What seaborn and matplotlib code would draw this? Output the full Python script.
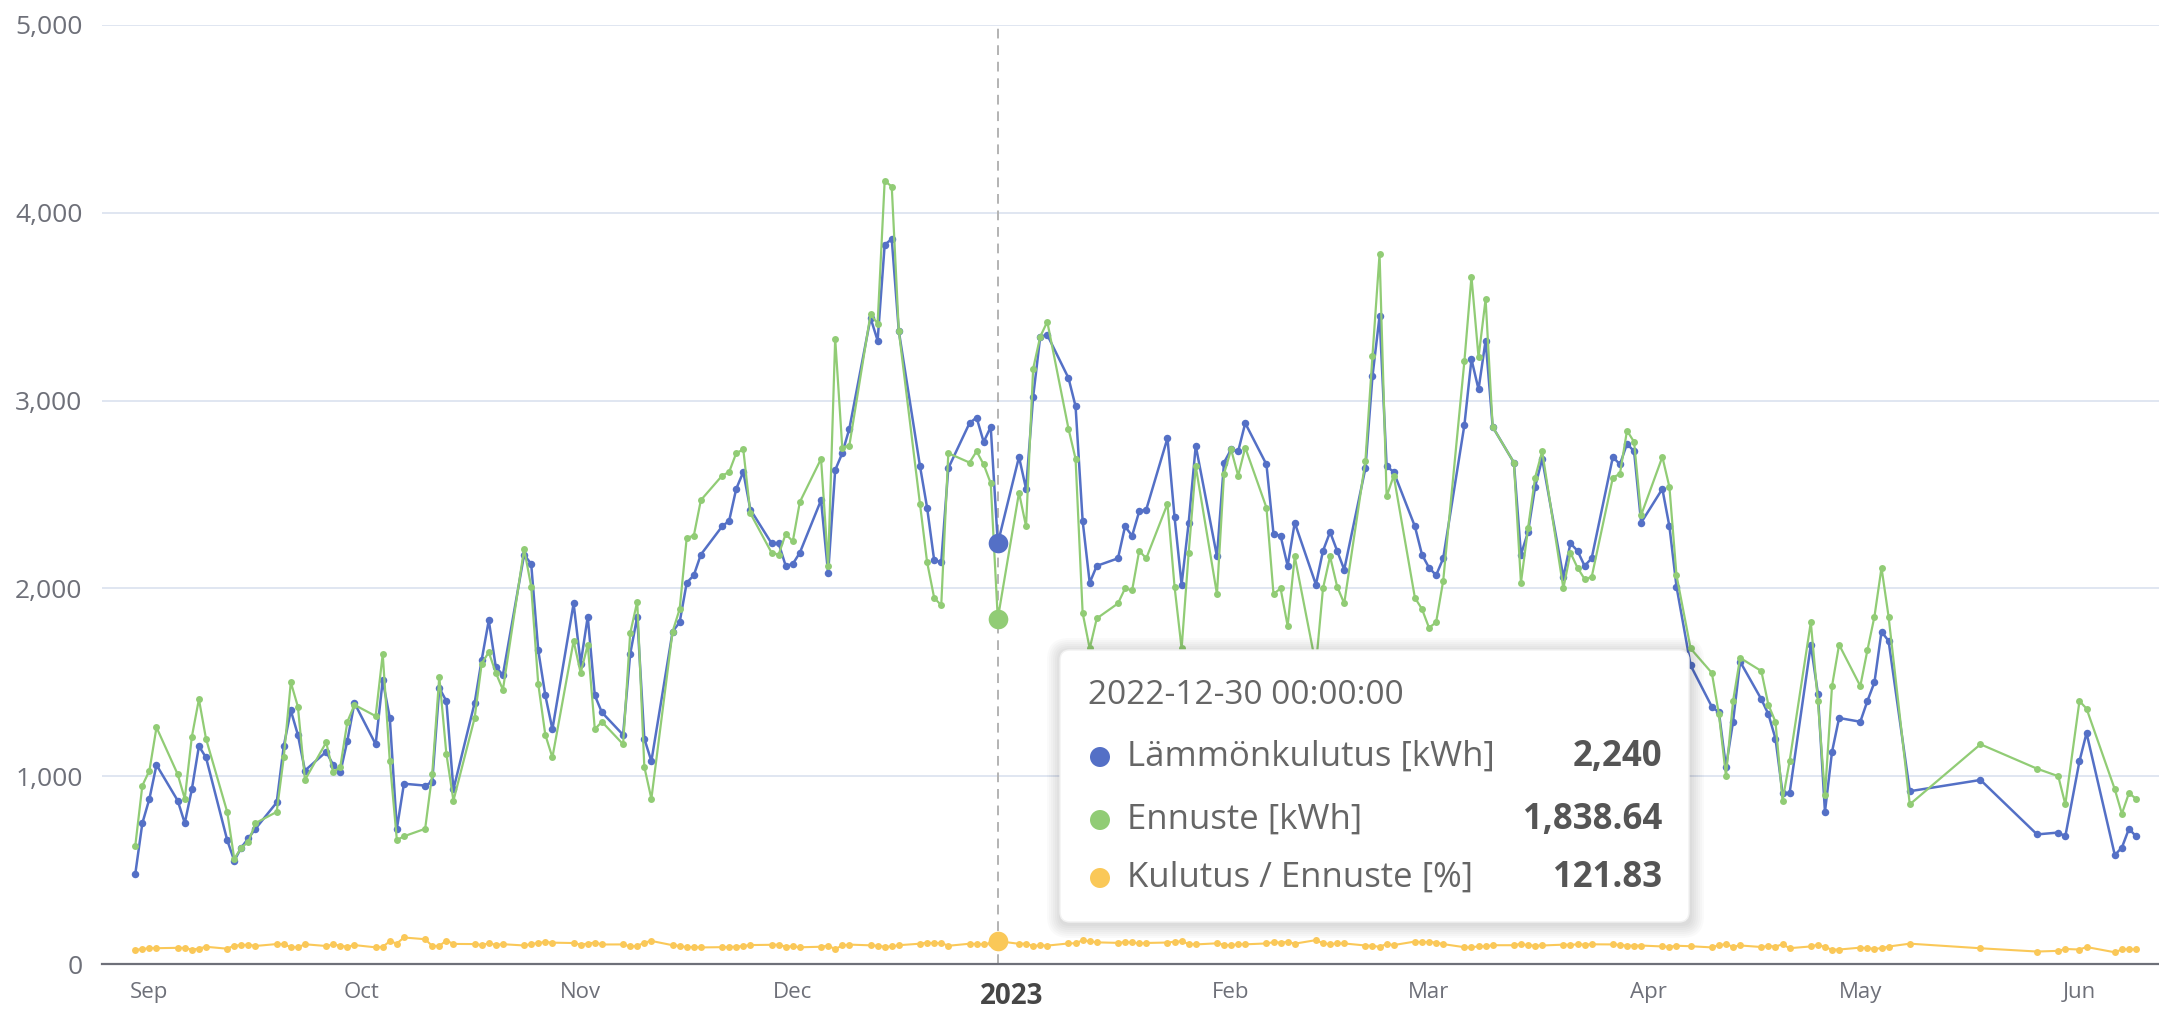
import pandas as pd
import numpy as np
import seaborn as sns
import matplotlib.pyplot as plt
from matplotlib.patches import FancyBboxPatch, Circle
from matplotlib.transforms import IdentityTransform

# weekdays with readings (2023-04-06 missing), then the sparse days from mid-May
main_days = pd.bdate_range('2022-08-30', '2023-05-08').drop(pd.Timestamp('2023-04-06'))
tail_days = pd.to_datetime(['2023-05-18', '2023-05-26', '2023-05-29', '2023-05-30', '2023-06-01',
                            '2023-06-02', '2023-06-06', '2023-06-07', '2023-06-08', '2023-06-09'])
dates = main_days.append(tail_days)

# Lämmönkulutus [kWh], one row per week
consumption = [
    480, 750, 880, 1060,
    870, 750, 930, 1160, 1100,
    660, 550, 620, 670, 720,
    860, 1160, 1350, 1220, 1030,
    1130, 1060, 1020, 1190, 1390,
    1170, 1510, 1310, 720, 960,
    950, 970, 1470, 1400, 930,
    1390, 1620, 1830, 1580, 1540,
    2180, 2130, 1670, 1430, 1250,
    1920, 1600, 1850, 1430, 1340,
    1220, 1650, 1850, 1200, 1080,
    1770, 1820, 2030, 2070, 2180,
    2330, 2360, 2530, 2620, 2420,
    2240, 2240, 2120, 2130, 2190,
    2470, 2080, 2630, 2720, 2850,
    3440, 3320, 3830, 3860, 3370,
    2650, 2430, 2150, 2140, 2640,
    2880, 2910, 2780, 2860, 2240,
    2700, 2530, 3020, 3340, 3350,
    3120, 2970, 2360, 2030, 2120,
    2160, 2330, 2280, 2410, 2420,
    2800, 2380, 2020, 2350, 2760,
    2170, 2670, 2740, 2730, 2880,
    2660, 2290, 2280, 2120, 2350,
    2020, 2200, 2300, 2200, 2100,
    2640, 3130, 3450, 2650, 2620,
    2330, 2180, 2110, 2070, 2160,
    2870, 3220, 3060, 3320, 2860,
    2670, 2180, 2300, 2540, 2690,
    2060, 2240, 2200, 2120, 2160,
    2700, 2660, 2770, 2730, 2350,
    2530, 2330, 2010, 1590,
    1370, 1340, 1050, 1290, 1610,
    1410, 1330, 1200, 910, 910,
    1700, 1440, 810, 1130, 1310,
    1290, 1400, 1500, 1770, 1720,
    920,
    980, 690, 700, 680, 1080, 1230, 580, 620, 720, 680,
]

# Ennuste [kWh]
forecast = [
    630, 950, 1030, 1260,
    1010, 880, 1210, 1410, 1200,
    810, 560, 620, 650, 750,
    810, 1100, 1500, 1370, 980,
    1180, 1020, 1050, 1290, 1380,
    1320, 1650, 1080, 660, 680,
    720, 1010, 1530, 1120, 870,
    1310, 1600, 1660, 1550, 1460,
    2210, 2010, 1490, 1220, 1100,
    1720, 1550, 1700, 1250, 1290,
    1170, 1760, 1930, 1050, 880,
    1770, 1890, 2270, 2280, 2470,
    2600, 2620, 2720, 2740, 2400,
    2190, 2180, 2290, 2250, 2460,
    2690, 2120, 3330, 2750, 2760,
    3460, 3410, 4170, 4140, 3370,
    2450, 2140, 1950, 1910, 2720,
    2670, 2730, 2660, 2560, 1838.64,
    2510, 2330, 3170, 3340, 3420,
    2850, 2690, 1870, 1680, 1840,
    1920, 2000, 1990, 2200, 2160,
    2450, 2010, 1680, 2190, 2650,
    1970, 2610, 2740, 2600, 2750,
    2430, 1970, 2000, 1800, 2170,
    1590, 2000, 2170, 2010, 1920,
    2680, 3240, 3780, 2490, 2600,
    1950, 1890, 1790, 1820, 2040,
    3210, 3660, 3230, 3540, 2860,
    2670, 2030, 2320, 2590, 2730,
    2000, 2190, 2110, 2050, 2060,
    2590, 2610, 2840, 2780, 2390,
    2700, 2540, 2070, 1680,
    1550, 1330, 1000, 1400, 1630,
    1560, 1380, 1290, 870, 1080,
    1820, 1400, 900, 1480, 1700,
    1480, 1670, 1850, 2110, 1850,
    850,
    1170, 1040, 1000, 850, 1400, 1360, 930, 800, 910, 880,
]

assert len(consumption) == len(forecast) == len(dates)

df = pd.DataFrame({'date': dates, 'kulutus': consumption, 'ennuste': forecast})
df['suhde'] = df['kulutus'] / df['ennuste'] * 100

focus_day = pd.Timestamp('2022-12-30')
month_ticks = pd.to_datetime(['2022-09-01', '2022-10-01', '2022-11-01', '2022-12-01', '2023-01-01',
                              '2023-02-01', '2023-03-01', '2023-04-01', '2023-05-01', '2023-06-01'])
month_labels = ['Sep', 'Oct', 'Nov', 'Dec', '2023', 'Feb', 'Mar', 'Apr', 'May', 'Jun']
y_ticks = [0, 1000, 2000, 3000, 4000, 5000]

series_names = ['Lämmönkulutus [kWh]', 'Ennuste [kWh]', 'Kulutus / Ennuste [%]']
blue, green, yellow = '#5470c6', '#91cc75', '#fac858'

sns.set_style('white')
plt.rcParams['font.family'] = ['Open Sans', 'DejaVu Sans']

fig = plt.figure(figsize=(21.59, 10.09), dpi=100)
ax = fig.add_axes([102 / 2159, 1 - 964 / 1009, 2057 / 2159, 939 / 1009])

ax.axvline(focus_day, color='#b3b3b3', lw=1.4, ls=(0, (5, 3.5)), zorder=1)

for col, color, lw, ms in [('kulutus', blue, 1.8, 5.4), ('ennuste', green, 1.6, 5.0), ('suhde', yellow, 1.5, 5.0)]:
    sns.lineplot(data=df, x='date', y=col, color=color, lw=lw, marker='o', markersize=ms,
                 markeredgewidth=0, ax=ax, zorder=3, clip_on=False)

focus = df[df['date'] == focus_day]
for col, color in [('kulutus', blue), ('ennuste', green), ('suhde', yellow)]:
    sns.scatterplot(data=focus, x='date', y=col, color=color, s=200, edgecolor=color,
                    linewidth=0, ax=ax, zorder=4, clip_on=False)

ax.set_xlim(pd.Timestamp('2022-08-25 07:00'), pd.Timestamp('2023-06-12 06:00'))
ax.set_ylim(0, 5000)
ax.set_xlabel('')
ax.set_ylabel('')

ax.set_yticks(y_ticks)
ax.set_yticklabels([f'{v:,}' for v in y_ticks], fontsize=19, color='#6e7079')
ax.tick_params(axis='y', length=0, pad=14)
ax.grid(axis='y', color='#e0e6f1', lw=1.4)
ax.grid(axis='x', visible=False)

ax.set_xticks(month_ticks)
ax.set_xticklabels(month_labels, fontsize=16, color='#6e7079')
ax.tick_params(axis='x', length=9, width=1.5, color='#6e7079', pad=4)
for lbl in ax.get_xticklabels():
    if lbl.get_text() == '2023':
        lbl.set_fontweight('bold')
        lbl.set_fontsize(20)
        lbl.set_color('#464646')

for side in ['top', 'right', 'left']:
    ax.spines[side].set_visible(False)
ax.spines['bottom'].set_color('#6e7079')
ax.spines['bottom'].set_linewidth(1.6)

# tooltip for the hovered day
ident = IdentityTransform()
bx, by, bw, bh = 1060, 87, 629, 272
for i in range(7):
    sh = FancyBboxPatch((bx + 1, by - 2), bw, bh, boxstyle=f'round,pad={2 + i * 2},rounding_size={10 + i * 2}',
                        transform=ident, facecolor='black', edgecolor='none', alpha=0.018, zorder=8)
    fig.add_artist(sh)
box = FancyBboxPatch((bx, by), bw, bh, boxstyle='round,pad=0,rounding_size=10', transform=ident,
                     facecolor='white', edgecolor='#f2f2f2', lw=1, zorder=9)
fig.add_artist(box)

row = focus.iloc[0]
fig.text(1088, 314, f"{focus_day:%Y-%m-%d %H:%M:%S}", transform=ident, fontsize=24, color='#666666',
         va='center', ha='left', zorder=10)
values = [f"{row['kulutus']:,.0f}", f"{row['ennuste']:,.2f}", f"{row['suhde']:.2f}"]
for name, val, color, ty in zip(series_names, values, [blue, green, yellow], [252, 189, 131]):
    fig.add_artist(Circle((1100, ty), 10, transform=ident, facecolor=color, edgecolor='none', zorder=10))
    fig.text(1127, ty, name, transform=ident, fontsize=25, color='#666666', va='center', ha='left', zorder=10)
    fig.text(1662, ty, val, transform=ident, fontsize=25, color='#555555', fontweight='bold',
             va='center', ha='right', zorder=10)

fig.savefig('out.png', dpi=100)
